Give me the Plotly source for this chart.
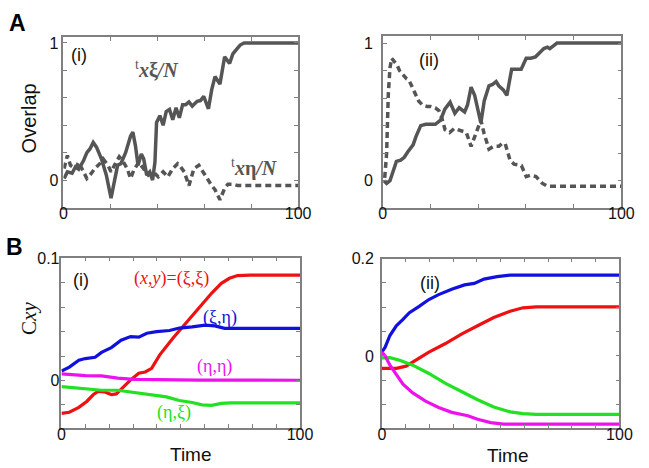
import plotly.graph_objects as go

# ---------------- data ----------------
# Panel A(i): overlap with xi (solid) and eta (dashed)
ai_sol_t = [0.3, 1.7, 3.7, 5.1, 6.5, 8.6, 10, 11.3, 12.7, 14.1, 16.2, 18.3, 20.3, 21.7, 23.1, 24.5,
            26.5, 28.6, 29.6, 30.7, 31.8, 33.2, 34.2, 35.5, 36.8, 38, 39, 39.7, 41.1, 42.5, 43.8,
            45.2, 46.6, 48, 49.4, 50.8, 52.1, 53.5, 54.9, 57, 58.4, 59.8, 61.8, 63.2, 64.6, 66.7,
            68.7, 70.8, 72.2, 73.6, 75.3, 77, 100]
ai_sol_y = [0.012, 0.06, 0.05, 0.096, 0.08, 0.143, 0.20, 0.227, 0.275, 0.24, 0.155, 0.036, -0.131,
            -0.01, 0.108, 0.12, 0.20, 0.32, 0.35, 0.25, 0.108, 0.19, 0.155, 0.036, 0.06, 0.0, 0.13,
            0.42, 0.47, 0.40, 0.50, 0.515, 0.44, 0.527, 0.455, 0.55, 0.55, 0.57, 0.54, 0.575, 0.58,
            0.61, 0.52, 0.66, 0.755, 0.70, 0.90, 0.85, 0.92, 0.95, 0.985, 1.0, 1.0]
ai_dash_t = [0.3, 1.7, 3.0, 5.1, 6.5, 8.6, 10, 11.3, 13.4, 15.5, 16.9, 19, 20.3, 22.4, 23.8, 25.2,
             27.2, 28.6, 30, 32.1, 34.2, 36.2, 38.3, 40.4, 42.5, 44.5, 46.6, 48.7, 49.4, 51.5, 53.5,
             55.6, 57.7, 59.8, 61.8, 63.2, 64.6, 66.7, 68.7, 70.1, 72.2, 74.3, 100]
ai_dash_y = [0.084, 0.18, 0.108, 0.084, 0.13, 0.06, 0.012, 0.036, 0.084, 0.12, 0.155, 0.108, 0.06,
             0.13, 0.17, 0.143, 0.084, 0.012, 0.072, 0.13, 0.084, 0.036, 0.06, 0.024, 0.06, 0.024,
             0.084, 0.12, 0.11, 0.06, -0.04, 0.084, 0.108, 0.048, -0.012, -0.04, -0.07, -0.144,
             -0.06, -0.03, -0.03, -0.04, -0.04]

# Panel A(ii)
aii_sol_t = [0.5, 1.6, 3, 4.5, 5.7, 7.5, 9, 10.5, 11.4, 12.7, 13.9, 15.9, 18, 20, 22, 24.2, 26, 28.2,
             30.2, 32, 34.3, 35.5, 37, 38.5, 41.1, 42.5, 44.5, 46, 47.5, 48.6, 50.5, 52, 54, 56, 58,
             60.1, 62, 64, 66.3, 67.5, 69, 70, 71.5, 73, 100]
aii_sol_y = [0.0, -0.02, 0.0, 0.07, 0.14, 0.15, 0.17, 0.21, 0.23, 0.26, 0.32, 0.40, 0.41, 0.41,
             0.41, 0.44, 0.52, 0.57, 0.49, 0.53, 0.50, 0.55, 0.68, 0.62, 0.42, 0.58, 0.69, 0.70,
             0.72, 0.69, 0.66, 0.62, 0.81, 0.81, 0.81, 0.89, 0.89, 0.90, 0.94, 0.96, 0.97, 0.96,
             0.98, 1.0, 1.0]
aii_dash_t = [0.8, 1.6, 2.3, 3.0, 3.7, 5, 6, 7, 8.4, 10, 11, 12.5, 13.9, 15, 16.6, 18.5, 20, 22, 23.5,
              24.5, 26.1, 28, 30, 32.9, 35, 37, 39, 41.1, 42.5, 44.5, 46.5, 48.6, 50, 51.3, 53.3,
              55, 58.1, 60.1, 62, 64.2, 66.9, 69, 100]
aii_dash_y = [0.02, 0.2, 0.63, 0.82, 0.89, 0.86, 0.84, 0.80, 0.77, 0.74, 0.73, 0.67, 0.61, 0.58,
              0.55, 0.54, 0.54, 0.53, 0.51, 0.47, 0.37, 0.35, 0.38, 0.36, 0.35, 0.25, 0.35, 0.44,
              0.34, 0.23, 0.25, 0.25, 0.27, 0.27, 0.15, 0.12, 0.11, 0.03, 0.04, 0.03, -0.02, -0.04,
              -0.04]

# Panel B(i): correlations C_xy
bi_red_t = [0, 3.3, 7.3, 10.7, 13.4, 15.4, 18.2, 20.9, 23, 25.6, 29, 32.4, 35.1, 37.8, 41.2, 46.7,
            52.1, 57.5, 63, 67, 70.4, 73.8, 79.2, 100]
bi_red_y = [-0.027, -0.026, -0.022, -0.017, -0.0115, -0.009, -0.0094, -0.0115, -0.011, -0.006,
            0.0005, 0.006, 0.007, 0.01, 0.021, 0.0346, 0.047, 0.059, 0.0717, 0.0797, 0.0838, 0.086,
            0.0864, 0.0864]
bi_blue_t = [0, 3.3, 7.3, 10, 14.1, 16.8, 20.9, 25, 29, 32.4, 35.8, 39.9, 45.3, 49.4, 54.8, 60.2,
             64.3, 68.4, 73.8, 100]
bi_blue_y = [0.0078, 0.011, 0.0166, 0.018, 0.019, 0.023, 0.027, 0.033, 0.036, 0.0355, 0.0387, 0.040,
             0.041, 0.043, 0.044, 0.0454, 0.0448, 0.0427, 0.0427, 0.0427]
bi_mag_t = [0, 10, 16.8, 23.6, 30.4, 44, 57.5, 100]
bi_mag_y = [0.0054, 0.004, 0.0038, 0.0019, 0.001, 0.0005, 0.0003, 0.0002]
bi_green_t = [0, 10, 16.8, 23.6, 30.4, 37.2, 44, 49.4, 54.8, 58.9, 63, 67, 71, 100]
bi_green_y = [-0.0051, -0.0067, -0.008, -0.008, -0.0097, -0.0115, -0.0134, -0.0164, -0.018,
              -0.020, -0.0204, -0.0188, -0.0183, -0.0183]

# Panel B(ii)
bii_blue_t = [0, 1.4, 3.4, 6.1, 8.9, 11.6, 15.7, 19.8, 23.9, 29.4, 34.8, 38.9, 43, 48.5, 54, 100]
bii_blue_y = [0.008, 0.018, 0.042, 0.062, 0.075, 0.089, 0.102, 0.116, 0.126, 0.137, 0.146, 0.149,
              0.158, 0.163, 0.166, 0.166]
bii_red_t = [0, 6.1, 10.2, 14.3, 19.8, 26.6, 33.5, 40.3, 47.1, 54, 59.4, 64.9, 100]
bii_red_y = [-0.0256, -0.0256, -0.021, -0.009, 0.008, 0.025, 0.045, 0.062, 0.079, 0.092, 0.099,
             0.101, 0.101]
bii_green_t = [0, 3.4, 7.5, 13, 19.8, 26.6, 33.5, 40.3, 47.1, 54, 59.4, 64.9, 100]
bii_green_y = [-0.004, -0.0034, -0.009, -0.019, -0.036, -0.056, -0.073, -0.090, -0.105, -0.115,
               -0.1185, -0.12, -0.12]
bii_mag_t = [0, 1.4, 3.4, 6.1, 8.9, 13, 18.4, 23.9, 29.4, 36.2, 40.3, 45.8, 51.2, 100]
bii_mag_y = [0.008, 0.0, -0.019, -0.039, -0.058, -0.076, -0.093, -0.106, -0.116, -0.123, -0.13,
             -0.137, -0.140, -0.140]

# tick values
a_xticks = [0, 20, 40, 60, 80, 100]
a_yticks = [0, 0.2, 0.4, 0.6, 0.8, 1.0]
b_xticks = [0, 10, 20, 30, 40, 50, 60, 70, 80, 90, 100]
bi_yticks = [-0.02, 0, 0.02, 0.04, 0.06, 0.08, 0.1]
bii_yticks = [-0.15, -0.1, -0.05, 0, 0.05, 0.1, 0.15, 0.2]

# ---------------- figure ----------------
W, H = 649, 468
GRAY = "#555555"
SANS = "Liberation Sans, Arial, sans-serif"
SERIF = "Liberation Serif, Times New Roman, serif"

fig = go.Figure()

def line(x, y, color, xa, ya, dash="solid", width=3.2):
    fig.add_trace(go.Scatter(x=x, y=y, mode="lines", xaxis=xa, yaxis=ya,
                             line=dict(color=color, width=width, dash=dash),
                             showlegend=False, hoverinfo="skip"))

line(ai_sol_t, ai_sol_y, GRAY, "x", "y", width=3.5)
line(ai_dash_t, ai_dash_y, GRAY, "x", "y", dash="6px,4px", width=3.5)
line(aii_sol_t, aii_sol_y, GRAY, "x2", "y2", width=3.5)
line(aii_dash_t, aii_dash_y, GRAY, "x2", "y2", dash="6px,4px", width=3.5)

RED, BLUE, MAG, GREEN = "#ee1111", "#1111dd", "#ee11ee", "#22e022"
line(bi_red_t, bi_red_y, RED, "x3", "y3")
line(bi_blue_t, bi_blue_y, BLUE, "x3", "y3")
line(bi_mag_t, bi_mag_y, MAG, "x3", "y3")
line(bi_green_t, bi_green_y, GREEN, "x3", "y3")
line(bii_blue_t, bii_blue_y, BLUE, "x4", "y4")
line(bii_red_t, bii_red_y, RED, "x4", "y4")
line(bii_green_t, bii_green_y, GREEN, "x4", "y4")
line(bii_mag_t, bii_mag_y, MAG, "x4", "y4")

def dom_x(a, b):
    return [a / W, b / W]

def dom_y(top, bottom):
    return [1 - bottom / H, 1 - top / H]

def labels(vals, shown):
    return [("%g" % v) if v in shown else "" for v in vals]

axis_common = dict(showline=True, linecolor="#808080", linewidth=1.5, mirror="ticks",
                   ticks="inside", ticklen=4, tickwidth=1, tickcolor="#808080",
                   showgrid=False, zeroline=False, tickfont=dict(family=SANS, size=16, color="#111"),
                   tickmode="array")
xax = dict(axis_common, ticklabelstandoff=-9)

fig.update_layout(
    xaxis=dict(domain=dom_x(61, 302), range=[0, 100], anchor="y", tickvals=a_xticks,
               ticktext=labels(a_xticks, [0, 100]), **xax),
    yaxis=dict(domain=dom_y(30, 203), range=[-0.2, 1.04], anchor="x", tickvals=a_yticks,
               ticktext=labels(a_yticks, [0, 1]), ticklabelstandoff=0, **axis_common),
    xaxis2=dict(domain=dom_x(389, 634), range=[0, 100], anchor="y2", tickvals=a_xticks,
                ticktext=labels(a_xticks, [0, 100]), **xax),
    yaxis2=dict(domain=dom_y(28.3, 203), range=[-0.195, 1.053], anchor="x2", tickvals=a_yticks,
                ticktext=labels(a_yticks, [0, 1]), ticklabelstandoff=5, **axis_common),
    xaxis3=dict(domain=dom_x(59, 304), range=[0, 100], anchor="y3", tickvals=b_xticks,
                ticktext=labels(b_xticks, [0, 100]), **xax),
    yaxis3=dict(domain=dom_y(254, 427), range=[-0.0387, 0.1007], anchor="x3", tickvals=bi_yticks,
                ticktext=labels(bi_yticks, [0, 0.1]), ticklabelstandoff=-3, **axis_common),
    xaxis4=dict(domain=dom_x(388, 632), range=[0, 100], anchor="y4", tickvals=b_xticks,
                ticktext=labels(b_xticks, [0, 100]), **xax),
    yaxis4=dict(domain=dom_y(255, 427), range=[-0.1475, 0.2], anchor="x4", tickvals=bii_yticks,
                ticktext=labels(bii_yticks, [0, 0.2]), ticklabelstandoff=3, **axis_common),
    width=W, height=H, margin=dict(l=0, r=0, t=0, b=0),
    paper_bgcolor="white", plot_bgcolor="white",
)

ann = []
def txt(text, x, y, xref, yref, size, color="#111", family=SANS, angle=0):
    ann.append(dict(text=text, x=x, y=y, xref=xref, yref=yref, showarrow=False,
                    font=dict(family=family, size=size, color=color), textangle=angle,
                    xanchor="center", yanchor="middle"))

# panel letters and axis titles (paper coords from pixel positions)
txt("<b>A</b>", 14 / W, 1 - 15 / H, "paper", "paper", 23, "#000")
txt("<b>B</b>", 11 / W, 1 - 243 / H, "paper", "paper", 23, "#000")
txt("Overlap", 26 / W, 1 - 112 / H, "paper", "paper", 20, "#111", angle=-90)
txt("C<i>xy</i>", 25 / W, 1 - 316 / H, "paper", "paper", 21, "#111", SERIF, angle=-90)
txt("Time", 192 / W, 1 - 454 / H, "paper", "paper", 19, "#111")
txt("Time", 518 / W, 1 - 455 / H, "paper", "paper", 19, "#111")

# in-panel labels (data coords)
txt("(i)", 6.6, 0.91, "x", "y", 18)
txt("<sup>t</sup><b><i>x</i>ξ<i>/N</i></b>", 40, 0.81, "x", "y", 20, GRAY, SERIF)
txt("<sup>t</sup><b><i>x</i>η<i>/N</i></b>", 81.5, 0.09, "x", "y", 20, GRAY, SERIF)
txt("(ii)", 19.2, 0.88, "x2", "y2", 18)
txt("(i)", 8.2, 0.082, "x3", "y3", 18)
txt("(<i>x</i>,<i>y</i>)=(ξ,ξ)", 46.1, 0.0838, "x3", "y3", 18, RED, SERIF)
txt("(ξ,η)", 66.5, 0.0515, "x3", "y3", 18, BLUE, SERIF)
txt("(η,η)", 64.1, 0.0113, "x3", "y3", 18, MAG, SERIF)
txt("(η,ξ)", 47.3, -0.0266, "x3", "y3", 18, GREEN, SERIF)
txt("(ii)", 20.1, 0.1495, "x4", "y4", 18)

fig.update_layout(annotations=ann)
fig.write_html("out.html", config={"displayModeBar": False},
               post_script="document.body.style.margin='0';document.body.style.padding='0';"
                           "document.body.style.overflow='hidden';")
